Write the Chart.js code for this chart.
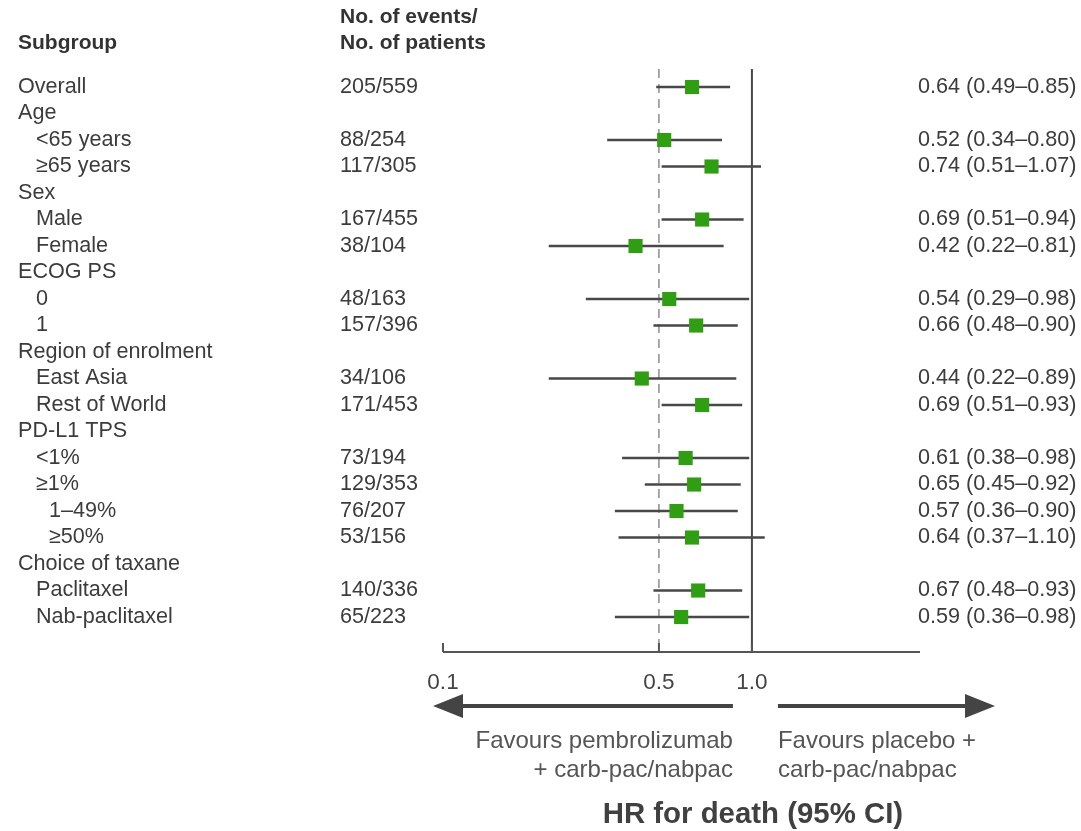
<!DOCTYPE html>
<html>
<head>
<meta charset="utf-8">
<script src="https://cdn.jsdelivr.net/npm/chart.js@4.4.0/dist/chart.umd.min.js"></script>
<style>
  html, body { margin: 0; padding: 0; background: #fff; }
  #forest { display: block; }
</style>
</head>
<body>
<canvas id="forest" width="1081" height="831"></canvas>
<script>
// subgroup rows, top to bottom
const rowLabels = ['Overall', 'Age', '<65 years', '≥65 years', 'Sex', 'Male', 'Female', 'ECOG PS', '0', '1',
    'Region of enrolment', 'East Asia', 'Rest of World', 'PD-L1 TPS', '<1%', '≥1%', '1–49%', '≥50%',
    'Choice of taxane', 'Paclitaxel', 'Nab-paclitaxel'];
const rowIndent = [0, 0, 1, 1, 0, 1, 1, 0, 1, 1, 0, 1, 1, 0, 1, 1, 2, 2, 0, 1, 1];
const eventCounts = ['205/559', '', '88/254', '117/305', '', '167/455', '38/104', '', '48/163', '157/396',
    '', '34/106', '171/453', '', '73/194', '129/353', '76/207', '53/156', '', '140/336', '65/223'];
const hazardRatio = [0.64, null, 0.52, 0.74, null, 0.69, 0.42, null, 0.54, 0.66,
    null, 0.44, 0.69, null, 0.61, 0.65, 0.57, 0.64, null, 0.67, 0.59];
const ciLow = [0.49, null, 0.34, 0.51, null, 0.51, 0.22, null, 0.29, 0.48,
    null, 0.22, 0.51, null, 0.38, 0.45, 0.36, 0.37, null, 0.48, 0.36];
const ciHigh = [0.85, null, 0.80, 1.07, null, 0.94, 0.81, null, 0.98, 0.90,
    null, 0.89, 0.93, null, 0.98, 0.92, 0.90, 1.10, null, 0.93, 0.98];
const xTicks = [0.1, 0.5, 1.0];
const xTickLabels = ['0.1', '0.5', '1.0'];

const FONT = '"Liberation Sans", Arial, sans-serif';
const TEXT = '#3c3c3c';
const LINE = '#484848';

const points = [];
hazardRatio.forEach((v, i) => {
    if (v !== null) points.push({ x: v, y: i });
});

const fmt = v => v.toFixed(2);

const forestPlugin = {
    id: 'forest',
    beforeDatasetsDraw(chart) {
        const { ctx, chartArea, scales: { x, y } } = chart;
        ctx.save();

        // dashed line at 0.5
        ctx.strokeStyle = '#7a7a7a';
        ctx.lineWidth = 1.3;
        ctx.setLineDash([9, 6]);
        ctx.beginPath();
        ctx.moveTo(x.getPixelForValue(0.5), chartArea.top);
        ctx.lineTo(x.getPixelForValue(0.5), chartArea.bottom);
        ctx.stroke();
        ctx.setLineDash([]);

        // line of no effect
        ctx.strokeStyle = LINE;
        ctx.lineWidth = 2;
        ctx.beginPath();
        ctx.moveTo(x.getPixelForValue(1), chartArea.top);
        ctx.lineTo(x.getPixelForValue(1), chartArea.bottom);
        ctx.stroke();

        // x axis with upward ticks
        ctx.strokeStyle = '#555';
        ctx.lineWidth = 2;
        ctx.beginPath();
        ctx.moveTo(chartArea.left, chartArea.bottom);
        ctx.lineTo(chartArea.right, chartArea.bottom);
        xTicks.forEach(t => {
            const px = x.getPixelForValue(t);
            ctx.moveTo(px, chartArea.bottom);
            ctx.lineTo(px, chartArea.bottom - 9);
        });
        ctx.stroke();

        // confidence intervals
        ctx.strokeStyle = LINE;
        ctx.lineWidth = 2.5;
        ctx.beginPath();
        hazardRatio.forEach((v, i) => {
            if (v === null) return;
            const py = y.getPixelForValue(i);
            ctx.moveTo(x.getPixelForValue(ciLow[i]), py);
            ctx.lineTo(x.getPixelForValue(ciHigh[i]), py);
        });
        ctx.stroke();
        ctx.restore();
    },
    afterDraw(chart) {
        const { ctx, chartArea, scales: { x, y } } = chart;
        ctx.save();
        ctx.textBaseline = 'middle';

        // column headers
        ctx.fillStyle = '#333';
        ctx.font = 'bold 21px ' + FONT;
        ctx.textAlign = 'left';
        ctx.fillText('Subgroup', 18, 43);
        ctx.fillText('No. of events/', 340, 17);
        ctx.fillText('No. of patients', 340, 43);

        // table rows
        ctx.font = '21.6px ' + FONT;
        ctx.fillStyle = TEXT;
        rowLabels.forEach((label, i) => {
            const py = y.getPixelForValue(i);
            ctx.textAlign = 'left';
            ctx.fillText(label, 18 + rowIndent[i] * 18 + (rowIndent[i] === 2 ? -5 : 0), py);
            if (eventCounts[i]) ctx.fillText(eventCounts[i], 340, py);
            if (hazardRatio[i] !== null) {
                ctx.fillText(`${fmt(hazardRatio[i])} (${fmt(ciLow[i])}–${fmt(ciHigh[i])})`, 918, py);
            }
        });

        // tick labels
        ctx.textAlign = 'center';
        ctx.fillStyle = '#444';
        ctx.font = '22.5px ' + FONT;
        xTicks.forEach((t, i) => {
            ctx.fillText(xTickLabels[i], x.getPixelForValue(t), chartArea.bottom + 31);
        });

        // direction arrows
        const mid = x.getPixelForValue(1);
        const ay = chartArea.bottom + 54;
        ctx.fillStyle = '#444';
        ctx.strokeStyle = '#444';
        ctx.lineWidth = 4;
        ctx.beginPath();
        ctx.moveTo(mid - 19, ay);
        ctx.lineTo(chartArea.left + 10, ay);
        ctx.moveTo(mid + 26, ay);
        ctx.lineTo(chartArea.right + 50, ay);
        ctx.stroke();
        ctx.beginPath();
        ctx.moveTo(chartArea.left - 10, ay);
        ctx.lineTo(chartArea.left + 20, ay - 12);
        ctx.lineTo(chartArea.left + 20, ay + 12);
        ctx.closePath();
        ctx.moveTo(chartArea.right + 75, ay);
        ctx.lineTo(chartArea.right + 45, ay - 12);
        ctx.lineTo(chartArea.right + 45, ay + 12);
        ctx.closePath();
        ctx.fill();

        ctx.fillStyle = '#555';
        ctx.font = '24px ' + FONT;
        ctx.textAlign = 'right';
        ctx.fillText('Favours pembrolizumab', mid - 19, ay + 35);
        ctx.fillText('+ carb-pac/nabpac', mid - 19, ay + 64);
        ctx.textAlign = 'left';
        ctx.fillText('Favours placebo +', mid + 26, ay + 35);
        ctx.fillText('carb-pac/nabpac', mid + 26, ay + 64);

        // axis title
        ctx.fillStyle = '#404040';
        ctx.font = 'bold 29.4px ' + FONT;
        ctx.textAlign = 'center';
        ctx.fillText('HR for death (95% CI)', mid + 1, chartArea.bottom + 163);
        ctx.restore();
    }
};

new Chart(document.getElementById('forest'), {
    type: 'scatter',
    data: {
        datasets: [{
            data: points,
            pointStyle: 'rect',
            pointRadius: 10,
            pointHoverRadius: 10,
            backgroundColor: '#2f9e12',
            borderColor: '#2f9e12',
            borderWidth: 0
        }]
    },
    options: {
        responsive: false,
        animation: false,
        events: [],
        layout: { padding: { left: 443, right: 161, top: 69, bottom: 179 } },
        plugins: { legend: { display: false }, tooltip: { enabled: false } },
        scales: {
            x: { type: 'logarithmic', min: 0.1, max: 3.5, bounds: 'data', display: false },
            y: { type: 'linear', min: -0.68, max: 21.32, reverse: true, bounds: 'data', display: false }
        }
    },
    plugins: [forestPlugin]
});
</script>
</body>
</html>
